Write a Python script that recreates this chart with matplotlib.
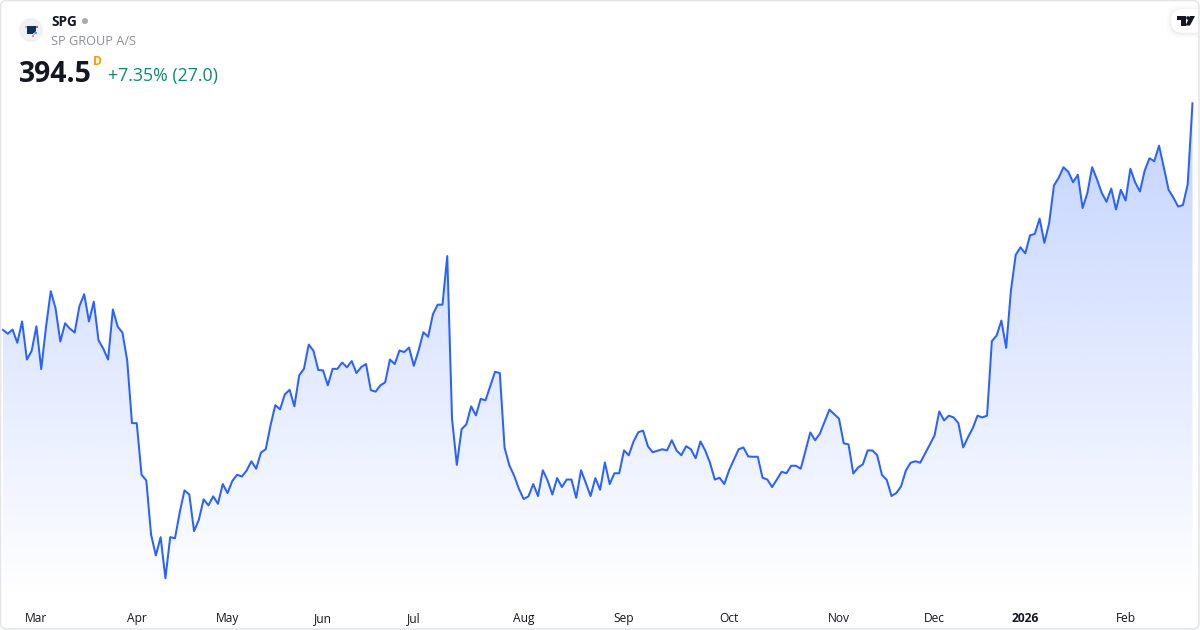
from __future__ import annotations

import matplotlib

matplotlib.use("Agg")
import matplotlib.pyplot as plt
import numpy as np
from matplotlib.patches import Circle, FancyBboxPatch, Polygon, Rectangle

FONT = "Open Sans"
LINE_COLOR = "#2962ff"

prices = [
    319.0, 317.7, 319.1, 314.7, 321.8, 309.1, 312.0, 320.2, 305.9, 319.9,
    331.9, 326.2, 315.1, 321.2, 319.4, 318.1, 326.9, 330.9, 321.8, 328.4,
    315.5, 312.7, 309.1, 325.8, 320.1, 318.1, 308.8, 287.9, 287.9, 270.7,
    268.8, 250.7, 243.8, 249.9, 236.2, 249.9, 249.5, 258.2, 265.5, 264.1,
    251.9, 255.7, 262.5, 260.5, 263.5, 261.0, 267.6, 264.6, 268.6, 270.7,
    270.1, 272.1, 275.2, 272.7, 278.1, 279.2, 287.1, 293.9, 292.5, 297.5,
    299.0, 293.5, 303.8, 306.0, 314.1, 312.0, 305.6, 305.5, 300.5, 306.0,
    306.0, 308.1, 306.5, 308.6, 304.6, 306.6, 307.6, 298.9, 298.4, 300.5,
    301.5, 309.1, 307.6, 312.1, 311.6, 313.1, 307.0, 312.1, 318.2, 316.7,
    324.2, 327.4, 327.4, 343.6, 289.4, 274.0, 285.9, 287.5, 293.5, 290.5,
    296.0, 295.5, 300.2, 305.0, 304.6, 279.7, 273.8, 270.4, 266.0, 262.6,
    263.5, 267.6, 263.6, 272.2, 268.8, 264.1, 269.6, 266.6, 269.1, 269.1,
    263.0, 272.2, 268.0, 263.6, 269.6, 265.7, 274.8, 267.6, 271.2, 271.2,
    278.8, 277.2, 281.8, 284.9, 285.4, 280.2, 278.2, 278.7, 279.2, 278.8,
    282.2, 278.8, 277.2, 280.2, 279.2, 276.2, 281.8, 278.8, 274.7, 269.1,
    269.7, 267.6, 272.2, 275.7, 279.2, 279.8, 276.8, 276.7, 276.7, 269.7,
    269.1, 266.6, 269.1, 271.7, 271.2, 273.7, 273.7, 272.7, 278.8, 284.8,
    282.2, 284.4, 288.4, 292.4, 290.9, 289.4, 281.2, 280.8, 271.1, 273.1,
    274.2, 278.8, 278.8, 277.2, 270.6, 269.0, 263.6, 264.6, 266.8, 272.1,
    274.7, 275.2, 274.7, 277.7, 280.7, 283.8, 291.8, 288.8, 290.4, 289.8,
    287.9, 279.8, 283.2, 286.2, 290.4, 289.8, 290.4, 315.2, 317.1, 322.1,
    313.0, 332.1, 344.0, 346.5, 344.5, 350.5, 351.0, 356.1, 348.0, 354.6,
    367.1, 369.7, 373.2, 371.7, 368.2, 370.7, 359.6, 364.6, 373.2, 369.2,
    364.7, 361.7, 366.1, 359.1, 365.7, 362.1, 372.7, 368.2, 365.1, 372.1,
    376.2, 375.2, 380.4, 373.2, 365.7, 363.1, 360.1, 360.6, 367.5, 394.5,
]
month_labels = ["Mar", "Apr", "May", "Jun", "Jul", "Aug", "Sep", "Oct", "Nov", "Dec", "2026", "Feb"]
month_starts = [7, 28, 47, 67, 86, 109, 130, 152, 175, 195, 214, 235]

SYMBOL = "SPG"
NAME = "SP GROUP A/S"
LAST_PRICE = "394.5"
CHANGE_TEXT = "+7.35% (27.0)"


def px(size: float) -> float:
    return size * 0.72


def draw_chart(ax) -> None:
    x = np.arange(len(prices))
    y = np.array(prices)
    # 4.777 px per bar, first bar 3 px from the left edge
    xlim = (-3.0 / 4.777, (1200 - 3.0) / 4.777)
    ylim = (228.95, 428.95)

    top = 394.5
    bottom = ylim[0]
    rgba = np.zeros((256, 1, 4))
    rgba[..., :3] = matplotlib.colors.to_rgb(LINE_COLOR)
    rgba[..., 3] = np.linspace(0.28, 0.0, 256).reshape(-1, 1)
    image = ax.imshow(
        rgba,
        extent=(x[0], x[-1], bottom, top),
        origin="upper",
        aspect="auto",
        interpolation="bilinear",
        zorder=1,
    )
    outline = np.column_stack([np.r_[x, x[-1], x[0]], np.r_[y, bottom, bottom]])
    clip = Polygon(outline, closed=True, transform=ax.transData, facecolor="none", edgecolor="none")
    ax.add_patch(clip)
    image.set_clip_path(clip)

    ax.plot(x, y, color=LINE_COLOR, linewidth=1.45, solid_joinstyle="round", zorder=2)
    ax.set_xlim(*xlim)
    ax.set_ylim(*ylim)

    ax.set_xticks(month_starts)
    ax.set_xticklabels(month_labels, fontsize=px(12), color="#131722", family=FONT)
    ax.tick_params(axis="x", length=0, pad=8.8)
    ax.set_yticks([])
    for label in ax.get_xticklabels():
        if label.get_text() == "2026":
            label.set_fontweight("bold")
    for spine in ax.spines.values():
        spine.set_visible(False)


def draw_header(ov) -> None:
    # logo
    ov.add_patch(Circle((31, 30), 12, facecolor="#eef1f8", edgecolor="none"))
    ov.add_patch(Polygon([(27, 26), (36, 26), (36, 31), (33.5, 34), (27, 34)], facecolor="#12305f", edgecolor="none"))
    for (lx, ly, w, h, color) in [
        (24.5, 26, 2.5, 2, "#c9c46a"), (36, 26, 2, 1.6, "#e2574c"), (34, 32, 3, 2, "#4a9fe0"),
        (32, 35, 1.8, 1.8, "#d48cc8"), (33, 33, 1.5, 1.5, "#f0c040"),
    ]:
        ov.add_patch(Rectangle((lx, ly), w, h, facecolor=color, edgecolor="none"))

    ov.text(51, 22, SYMBOL, fontsize=px(13.6), fontweight="bold", color="#131722", va="center", family=FONT)
    ov.add_patch(Circle((85, 21), 3, facecolor="#a8abb3", edgecolor="none"))
    ov.text(51, 41.8, NAME, fontsize=px(12.8), color="#8c8f98", va="center", family=FONT)
    ov.text(19, 81.5, LAST_PRICE, fontsize=px(28.4), fontweight="bold", color="#131722", va="baseline", family=FONT)
    ov.text(93, 65, "D", fontsize=px(12), fontweight="bold", color="#ff9800", va="baseline", family=FONT)
    ov.text(108, 81, CHANGE_TEXT, fontsize=px(17.7), color="#0a8a74", va="baseline", family=FONT)


def draw_badge(ov) -> None:
    for grow, shade in [(5.0, 0.008), (3.5, 0.012), (2.0, 0.018), (1.0, 0.022)]:
        ov.add_patch(
            FancyBboxPatch(
                (1171 - grow, 9 - grow + 1), 40 + 2 * grow, 23.5 + 2 * grow,
                boxstyle="round,pad=0,rounding_size=12", facecolor="black", alpha=shade, edgecolor="none",
            )
        )
    ov.add_patch(
        FancyBboxPatch(
            (1171, 9), 40, 23.5, boxstyle="round,pad=0,rounding_size=11.7", facecolor="white", edgecolor="none",
        )
    )
    ink = "#131722"
    ov.add_patch(Polygon([(1177, 16), (1186, 16), (1186, 25.5), (1180.8, 25.5), (1180.8, 19.6), (1177, 19.6)], facecolor=ink, edgecolor="none"))
    ov.add_patch(Circle((1188, 18), 1.8, facecolor=ink, edgecolor="none"))
    ov.add_patch(Polygon([(1190, 16), (1195, 16), (1190, 25.5), (1185.5, 25.5)], facecolor=ink, edgecolor="none"))


def main() -> int:
    fig = plt.figure(figsize=(12, 6.3), dpi=100, facecolor="white")
    ax = fig.add_axes([0, 30 / 630, 1, 600 / 630])
    ax.set_facecolor("white")
    draw_chart(ax)

    ov = fig.add_axes([0, 0, 1, 1], zorder=5)
    ov.set_xlim(0, 1200)
    ov.set_ylim(630, 0)
    ov.axis("off")
    ov.patch.set_alpha(0)

    # right gutter goes under the badge, frame on top
    ov.add_patch(Rectangle((1194, 2), 4.5, 624, facecolor="white", edgecolor="none"))
    draw_badge(ov)
    draw_header(ov)
    ov.add_patch(Rectangle((1199, 0), 1, 630, facecolor="white", edgecolor="none", zorder=6))
    ov.add_patch(
        FancyBboxPatch(
            (0.5, 0.5), 1198.5, 628.5, boxstyle="round,pad=0,rounding_size=6",
            facecolor="none", edgecolor="#e4e6eb", linewidth=1.2, zorder=7,
        )
    )
    fig.savefig("out.png", dpi=100, facecolor="white")
    plt.close(fig)
    return 0


if __name__ == "__main__":
    raise SystemExit(main())
